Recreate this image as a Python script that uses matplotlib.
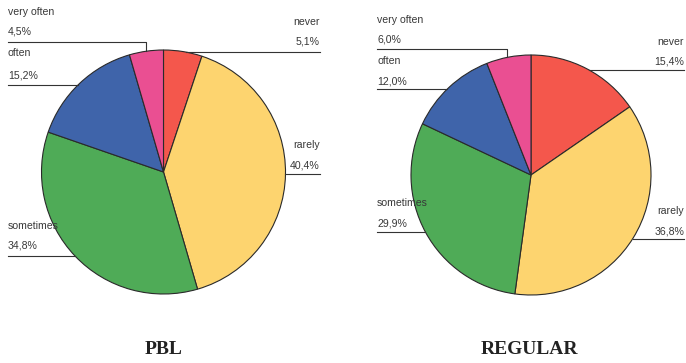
import numpy as np
import matplotlib.pyplot as plt

categories = ["never", "rarely", "sometimes", "often", "very often"]
pbl_values = [5.1, 40.4, 34.8, 15.2, 4.5]
regular_values = [15.4, 36.8, 29.9, 12.0, 6.0]
titles = ["PBL", "REGULAR"]
colors = ["#f4574c", "#fdd46f", "#4fab57", "#3f64aa", "#ea4f92"]

W, H = 686, 363
fig = plt.figure(figsize=(W / 100, H / 100), dpi=100)
ax = fig.add_axes([0, 0, 1, 1])
ax.set_xlim(0, W)
ax.set_ylim(0, H)
ax.set_aspect("equal")
ax.axis("off")

# pie layout: center, radius, left text x, right text x (pixel coords, y from top)
pies = [
    dict(vals=pbl_values, c=(163.5, 172), r=122, lx=8, rx=320, title_x=164,
         # label rows: (name y, percent y, leader y, side)
         labels={"very often": (12, 32, 42, "top"), "never": (22, 42, 52, "R"),
                 "often": (53, 75, 85, "L"), "rarely": (145, 165, 174, "R"),
                 "sometimes": (226, 246, 256, "L")},
         vo_x=146),
    dict(vals=regular_values, c=(531, 175), r=120, lx=377, rx=684, title_x=529,
         labels={"very often": (20, 40, 49, "top"), "never": (42, 62, 70, "R"),
                 "often": (61, 82, 89, "L"), "rarely": (211, 232, 239, "R"),
                 "sometimes": (203, 224, 232, "L")},
         vo_x=507),
]

txt = dict(fontsize=7.6, color="#383838", family="Liberation Sans")
lc = dict(color="#333333", lw=0.8)

for p, title in zip(pies, titles):
    cx, cy = p["c"]
    r = p["r"]
    ax.pie(p["vals"], colors=colors, startangle=90, counterclock=False,
           center=(cx, H - cy), radius=r,
           wedgeprops=dict(edgecolor="#2a2a2a", linewidth=0.8))
    for name, val in zip(categories, p["vals"]):
        y1, y2, yl, side = p["labels"][name]
        pct = f"{val:.1f}%".replace(".", ",")
        if side == "R":
            ax.text(p["rx"], H - y1, name, ha="right", va="center", **txt)
            ax.text(p["rx"], H - y2, pct, ha="right", va="center", **txt)
            xe = cx + np.sqrt(max(r ** 2 - (yl - cy) ** 2, 0))
            ax.plot([p["rx"], xe], [H - yl, H - yl], **lc)
        else:
            ax.text(p["lx"], H - y1, name, ha="left", va="center", **txt)
            ax.text(p["lx"], H - y2, pct, ha="left", va="center", **txt)
            if side == "L":
                xe = cx - np.sqrt(max(r ** 2 - (yl - cy) ** 2, 0))
                ax.plot([p["lx"], xe], [H - yl, H - yl], **lc)
            else:
                vx = p["vo_x"]
                ye = cy - np.sqrt(max(r ** 2 - (vx - cx) ** 2, 0))
                ax.plot([p["lx"], vx, vx], [H - yl, H - yl, H - ye], **lc)
    ax.text(p["title_x"], H - 350, title, ha="center", va="center",
            fontsize=14, fontweight="bold", family="Liberation Serif",
            color="#222222")

ax.set_xlim(0, W)
ax.set_ylim(0, H)
fig.savefig("out.png", dpi=100)
